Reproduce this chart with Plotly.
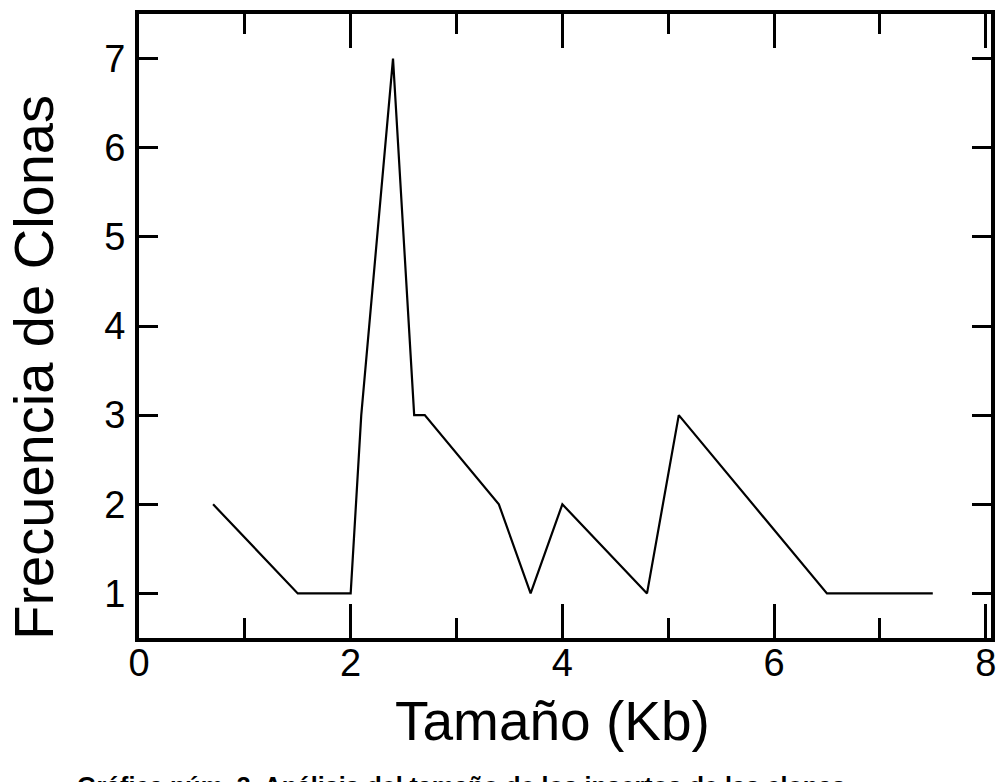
import plotly.graph_objects as go

# Data
tamano_kb = [0.7, 1.5, 2.0, 2.1, 2.4, 2.6, 2.7, 3.4, 3.7, 4.0, 4.8, 5.1, 6.5, 7.5]
frecuencia = [2, 1, 1, 3, 7, 3, 3, 2, 1, 2, 1, 3, 1, 1]

x_ticks = [0, 2, 4, 6, 8]
y_ticks = [1, 2, 3, 4, 5, 6, 7]

x_title = "Tamaño (Kb)"
y_title = "Frecuencia de Clonas"
caption = "Gráfica núm. 3. Análisis del tamaño de los insertos de las clonas."

FONT = "Liberation Sans, Arial, sans-serif"

fig = go.Figure()
fig.add_trace(go.Scatter(
    x=tamano_kb, y=frecuencia, mode="lines",
    line=dict(color="black", width=2.2),
    showlegend=False, hoverinfo="skip",
))

# page is rendered with an 8px body margin
OFF = 8
W, H = 1004 - OFF, 782 - OFF
L, R, T, B = 139 - OFF, 1004 - 991, 10 - OFF, 782 - 638
plot_w = W - L - R
plot_h = H - T - B

def px(pix):
    return (pix - OFF - L) / plot_w

def py(pix):
    return (H - B - (pix - OFF)) / plot_h

fig.update_layout(
    width=W, height=H,
    margin=dict(l=L, r=R, t=T, b=B),
    paper_bgcolor="white", plot_bgcolor="white",
    font=dict(family=FONT, color="black"),
    xaxis=dict(
        range=[0, 8.05], tickvals=x_ticks, ticktext=[str(v) for v in x_ticks],
        ticks="inside", ticklen=34, tickwidth=2.5, tickcolor="black",
        minor=dict(dtick=1, ticks="inside", ticklen=20, tickwidth=2.5, tickcolor="black"),
        showline=True, linewidth=4, linecolor="black", mirror="ticks",
        showgrid=False, zeroline=False,
        tickfont=dict(size=38, family=FONT, color="black"),
        ticklabelstandoff=-12,
        fixedrange=True,
    ),
    yaxis=dict(
        range=[0.5, 7.5], tickvals=y_ticks, ticktext=[str(v) for v in y_ticks],
        ticks="inside", ticklen=19, tickwidth=3, tickcolor="black",
        showline=True, linewidth=4, linecolor="black", mirror="ticks",
        showgrid=False, zeroline=False,
        tickfont=dict(size=38, family=FONT, color="black"),
        ticklabelstandoff=2,
        fixedrange=True,
    ),
    annotations=[
        dict(text=x_title, xref="paper", yref="paper",
             x=px(552), y=py(722), xanchor="center", yanchor="middle",
             showarrow=False, font=dict(size=55, family=FONT, color="black")),
        dict(text=y_title, xref="paper", yref="paper",
             x=px(34), y=py(366), xanchor="center", yanchor="middle",
             textangle=-90, showarrow=False,
             font=dict(size=56, family=FONT, color="black")),
        dict(text="<b>" + caption + "</b>", xref="paper", yref="paper",
             x=px(75), y=py(771), xanchor="left", yanchor="top",
             showarrow=False, font=dict(size=25, family=FONT, color="black")),
    ],
)

fig.write_html("out.html")
